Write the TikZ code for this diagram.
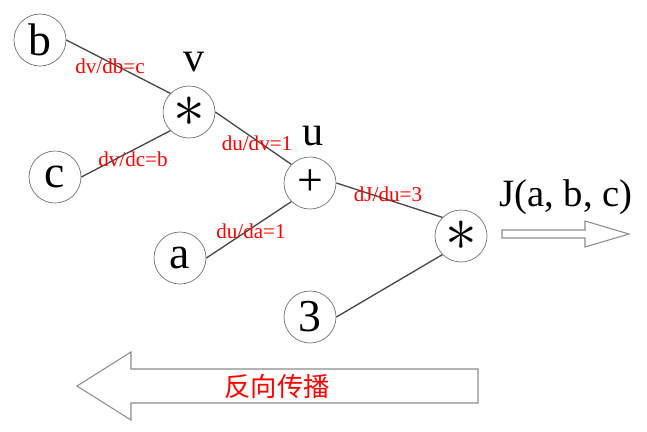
\documentclass[tikz,border=0pt]{standalone}
\usepackage{fontspec}
\setmainfont{Liberation Serif}
\newfontfamily\cjk{Noto Sans CJK SC}

\begin{document}
\begin{tikzpicture}[
    var/.style={draw=black!55, circle, minimum size=1.04cm, inner sep=0pt, font=\fontsize{26}{26}\selectfont},
    outname/.style={inner sep=0pt, font=\fontsize{24}{24}\selectfont},
    grad/.style={inner sep=0pt, text=red, font=\fontsize{12}{12}\selectfont},
    edge/.style={draw=black!72, line width=0.75pt},
    bigarr/.style={draw=black!45, line width=0.6pt}
]
\useasboundingbox (0,0) rectangle (12.94,-8.62);

% graph nodes
\node[var] (b)     at (0.80,-0.80) {b};
\node[var] (mul1)  at (3.78,-2.24) {\scalebox{1.45}{$\ast$}};
\node[var] (c)     at (1.10,-3.54) {c};
\node[var] (add)   at (6.20,-3.66) {+};
\node[var] (a)     at (3.60,-5.16) {a};
\node[var] (three) at (6.20,-6.34) {3};
\node[var] (mul2)  at (9.22,-4.72) {\scalebox{1.45}{$\ast$}};

\node[outname] (vname) at (3.88,-1.24) {v};
\node[outname] (uname) at (6.26,-2.72) {u};
\node[outname, font=\fontsize{22}{22}\selectfont] (jname) at (11.32,-3.94) {J(a, b, c)};

% edges
\draw[edge] (b.east)     -- (mul1.north west);
\draw[edge] (c.east)     -- (mul1.south west);
\draw[edge] (mul1.east)  -- (add.north west);
\draw[edge] (a.east)     -- (add.south west);
\draw[edge] (add.east)   -- (mul2.north west);
\draw[edge] (three.east) -- (mul2.south west);

% local gradients
\node[grad] (gb)  at (2.20,-1.32) {dv/db=c};
\node[grad] (gc)  at (2.66,-3.18) {dv/dc=b};
\node[grad] (gv)  at (5.14,-2.86) {du/dv=1};
\node[grad] (ga)  at (5.02,-4.62) {du/da=1};
\node[grad] (gu)  at (7.76,-3.88) {dJ/du=3};

% forward / backward arrows
\draw[bigarr] (10.04,-4.60) -- (11.70,-4.60) -- (11.70,-4.42) -- (12.58,-4.68)
    -- (11.70,-4.94) -- (11.70,-4.76) -- (10.04,-4.76) -- cycle;
\draw[bigarr] (9.56,-7.38) -- (2.62,-7.38) -- (2.62,-7.04) -- (1.54,-7.72)
    -- (2.62,-8.40) -- (2.62,-8.06) -- (9.56,-8.06) -- cycle;
\node[inner sep=0pt, text=red, font=\cjk\fontsize{15}{15}\selectfont] (back) at (5.54,-7.72) {反向传播};
\end{tikzpicture}
\end{document}
